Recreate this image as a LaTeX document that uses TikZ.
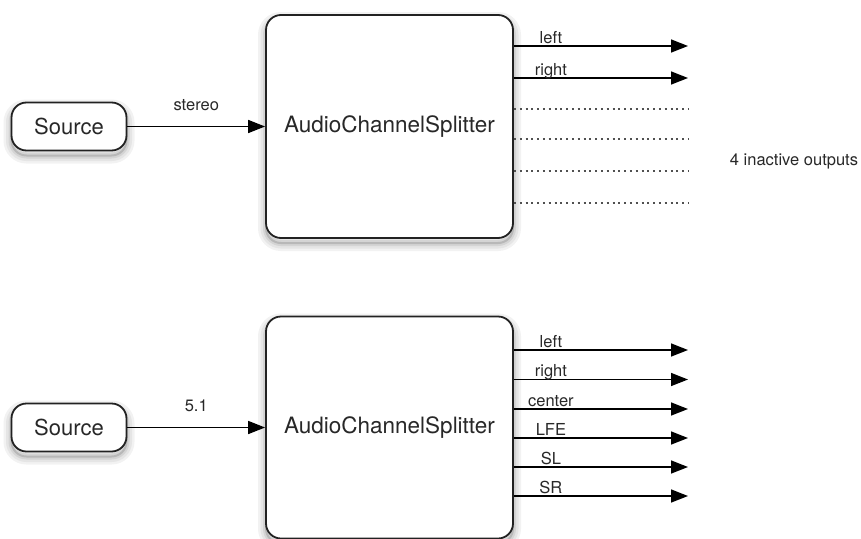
\documentclass[tikz,border=0pt]{standalone}
\usepackage{fontspec}
\setmainfont{TeX Gyre Heros}
\usepackage{tikz}
\usetikzlibrary{arrows.meta,positioning}
\definecolor{boxline}{RGB}{34,34,34}
\definecolor{txtgray}{RGB}{40,40,40}
\definecolor{dotgray}{RGB}{80,80,80}
\tikzset{
  sourcebox/.style={draw=boxline, line width=1.8pt, fill=white, rounded corners=15pt, minimum width=115pt, minimum height=48pt, inner sep=0pt, text=txtgray, font=\fontsize{22}{24}\selectfont},
  splitbox/.style={draw=boxline, line width=1.8pt, fill=white, rounded corners=15pt, minimum width=247pt, inner sep=0pt, text=txtgray, font=\fontsize{22.5}{24}\selectfont},
  shadowring/.style={line width=#1, rounded corners=15pt},
  flow/.style={line width=1.5pt, -{Triangle[length=17pt, width=13pt]}},
  idle/.style={line width=2pt, dotgray, dash pattern=on 2pt off 3.8pt},
  lbl/.style={text=txtgray, font=\fontsize{16.5}{18}\selectfont, inner sep=0pt, anchor=base}
}

\begin{document}
\begin{tikzpicture}[x=1pt, y=-1pt]
\useasboundingbox (0,0) rectangle (861,538);

\foreach \x/\y/\xx/\yy in {266/20/513/243, 11.5/107.5/126.5/155.5, 266/321.5/513/543.5, 11.5/408.5/126.5/456.5}
  \foreach \w/\c in {16/5,11/10,6/17,2/28}
    \draw[shadowring=\w pt, draw=black!\c] (\x,\y) rectangle (\xx,\yy);

\node[splitbox, minimum height=223pt] (splitA) at (389.5,126.5) {AudioChannelSplitter};
\node[sourcebox] (srcA) at (69,126.5) {Source};
\draw[flow] (srcA) -- (splitA) node[lbl, midway, yshift=16pt] {stereo};
\foreach \y/\t [count=\i] in {46/left,78/right}{
  \coordinate (outA\i) at (688,\y);
  \draw[flow] (splitA.east |- outA\i) -- (outA\i) node[lbl, at start, xshift=37pt, yshift=3pt] {\t};
}
\foreach \y [count=\i] in {109,139,171,203}{
  \coordinate (offA\i) at (688,\y);
  \draw[idle] (splitA.east |- offA\i) -- (offA\i);
}
\node[lbl] (idleA) at (794,165) {4 inactive outputs};

\node[splitbox, minimum height=222pt] (splitB) at (389.5,427.5) {AudioChannelSplitter};
\node[sourcebox] (srcB) at (69,427.5) {Source};
\draw[flow] (srcB) -- (splitB) node[lbl, midway, yshift=16pt] {5.1};
\foreach \y/\t [count=\i] in {350/left,379.5/right,409/center,438/LFE,467/SL,496/SR}{
  \coordinate (outB\i) at (688,\y);
  \draw[flow] (splitB.east |- outB\i) -- (outB\i) node[lbl, at start, xshift=37pt, yshift=3pt] {\t};
}
\end{tikzpicture}
\end{document}
